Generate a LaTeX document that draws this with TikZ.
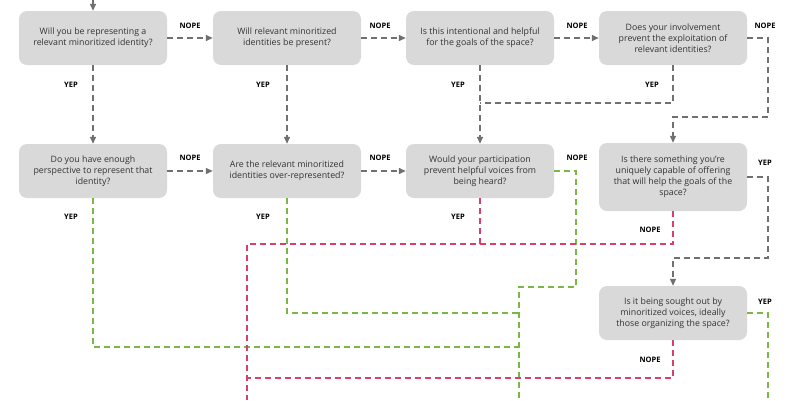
\documentclass[tikz,border=0pt]{standalone}
\usepackage{fontspec}
\setmainfont{Open Sans}
\usetikzlibrary{arrows.meta}
\definecolor{boxgray}{HTML}{D9D9D9}
\definecolor{linegray}{HTML}{707070}
\definecolor{yepgreen}{HTML}{7AB648}
\definecolor{nopered}{HTML}{D6406A}
\begin{document}
\begin{tikzpicture}[x=1pt,y=-1pt,
    question/.style={fill=boxgray,rounded corners=8pt,minimum width=148pt,minimum height=54pt,align=center,text=black!80,font=\fontsize{8.8}{11}\selectfont},
    flow/.style={dash pattern=on 6pt off 4pt,line width=1.3pt},
    grayflow/.style={flow,linegray},
    grayarrow/.style={grayflow,-{Triangle[length=7pt,width=6pt]}},
    greenflow/.style={flow,yepgreen},
    redflow/.style={flow,nopered},
    lbl/.style={font=\fontsize{7.5}{8}\selectfont\bfseries,text=black}]
                \useasboundingbox (0,0) rectangle (800,400);
                \node[question] (q1) at (93,38) {Will you be representing a\\relevant minoritized identity?};
                \node[question] (q2) at (287,38) {Will relevant minoritized\\identities be present?};
                \node[question] (q3) at (480,38) {Is this intentional and helpful\\for the goals of the space?};
                \node[question] (q4) at (673,38) {Does your involvement\\prevent the exploitation of\\relevant identities?};
                \node[question] (q5) at (93,171) {Do you have enough\\perspective to represent that\\identity?};
                \node[question] (q6) at (287,171) {Are the relevant minoritized\\identities over-represented?};
                \node[question] (q7) at (480,171) {Would your participation\\prevent helpful voices from\\being heard?};
                \node[question,minimum height=68pt] (q8) at (673,177) {Is there something you're\\uniquely capable of offering\\that will help the goals of the\\space?};
                \node[question] (q9) at (673,313) {Is it being sought out by\\minoritized voices, ideally\\those organizing the space?};
                \coordinate (top) at (93,0);
                \coordinate (rjoin) at (247,244);
                \coordinate (rend) at (247,400);
                \coordinate (gend) at (519,400);
                \draw[grayarrow] (top) -- (q1);
                \draw[grayarrow] (q1) -- (q2);
                \draw[grayarrow] (q2) -- (q3);
                \draw[grayarrow] (q3) -- (q4);
                \draw[grayarrow] (q4.east) -| (768,117) -| (q8);
                \draw[grayarrow] (q1) -- (q5);
                \draw[grayarrow] (q2) -- (q6);
                \draw[grayarrow] (q3) -- (q7);
                \draw[grayflow] (q4) |- (480,103);
                \draw[grayarrow] (q5) -- (q6);
                \draw[grayarrow] (q6) -- (q7);
                \draw[grayarrow] (q8.east) -| (768,258) -| (q9);
                \draw[greenflow] (q5) |- (519,347);
                \draw[greenflow] (q6) |- (519,313);
                \draw[greenflow] (q7.east) -| (576,287) -| (gend);
                \draw[greenflow] (q9.east) -| (768,400);
                \draw[redflow] (q7) |- (rjoin) -- (rend);
                \draw[redflow] (q8) |- (480,244);
                \draw[redflow] (q9) |- (247,378);
                \node[lbl] (n1) at (190,26) {NOPE};
                \node[lbl] (n2) at (380,26) {NOPE};
                \node[lbl] (n3) at (577,26) {NOPE};
                \node[lbl] (n4) at (765,26) {NOPE};
                \node[lbl] (y1) at (71,85) {YEP};
                \node[lbl] (y2) at (263,85) {YEP};
                \node[lbl] (y3) at (458,85) {YEP};
                \node[lbl] (y4) at (652,85) {YEP};
                \node[lbl] (n5) at (190,158) {NOPE};
                \node[lbl] (n6) at (380,158) {NOPE};
                \node[lbl] (n7) at (577,158) {NOPE};
                \node[lbl] (y8) at (765,163) {YEP};
                \node[lbl] (y5) at (71,217) {YEP};
                \node[lbl] (y6) at (263,217) {YEP};
                \node[lbl] (y7) at (458,217) {YEP};
                \node[lbl] (n8) at (650,230) {NOPE};
                \node[lbl] (y9) at (765,302) {YEP};
                \node[lbl] (n9) at (650,360) {NOPE};
            \end{tikzpicture}
\end{document}
